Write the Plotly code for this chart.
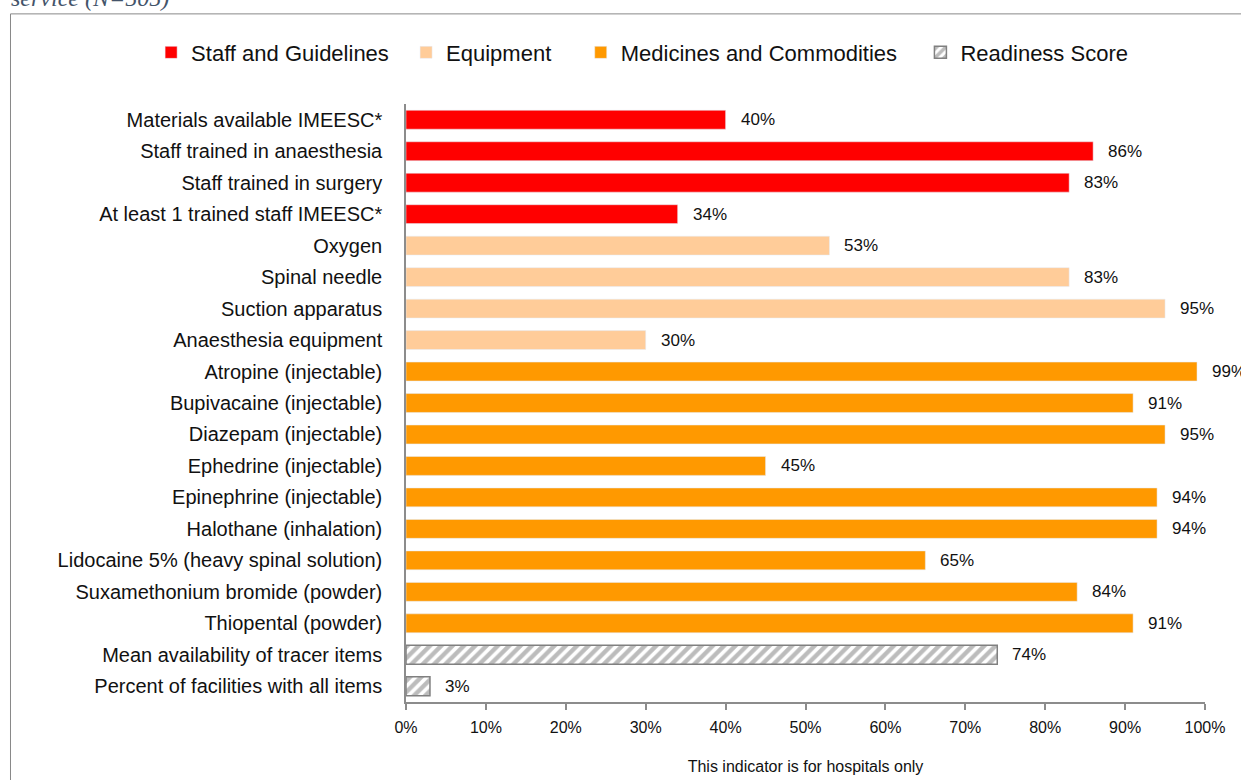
import plotly.graph_objects as go

# Tracer items grouped by domain (top to bottom)
staff_items = ["Materials available IMEESC*", "Staff trained in anaesthesia",
               "Staff trained in surgery", "At least 1 trained staff IMEESC*"]
staff_vals = [40, 86, 83, 34]

equip_items = ["Oxygen", "Spinal needle", "Suction apparatus", "Anaesthesia equipment"]
equip_vals = [53, 83, 95, 30]

med_items = ["Atropine (injectable)", "Bupivacaine (injectable)", "Diazepam (injectable)",
             "Ephedrine (injectable)", "Epinephrine (injectable)", "Halothane (inhalation)",
             "Lidocaine 5% (heavy spinal solution)", "Suxamethonium bromide (powder)",
             "Thiopental (powder)"]
med_vals = [99, 91, 95, 45, 94, 94, 65, 84, 91]

score_items = ["Mean availability of tracer items", "Percent of facilities with all items"]
score_vals = [74, 3]

tick_vals = [0, 10, 20, 30, 40, 50, 60, 70, 80, 90, 100]
tick_text = [f"{v}%" for v in tick_vals]

categories = staff_items + equip_items + med_items + score_items

FONT = "Liberation Sans, Arial, sans-serif"
GREY = "#8c8c8c"
NB = "\u00a0"

fig = go.Figure()

groups = [
    ("Staff and Guidelines" + NB * 2, staff_items, staff_vals, dict(color="#ff0000")),
    ("Equipment" + NB * 4, equip_items, equip_vals, dict(color="#ffcc99")),
    ("Medicines and Commodities" + NB * 3, med_items, med_vals, dict(color="#ff9900")),
    ("Readiness Score", score_items, score_vals,
     dict(color="white",
          pattern=dict(shape="/", fgcolor="#7a7a7a", bgcolor="white", size=8, solidity=0.55),
          line=dict(color="#808080", width=1.5))),
]

for name, items, vals, marker in groups:
    fig.add_trace(go.Bar(
        y=items, x=vals, orientation="h", name=name,
        marker=marker, width=0.6, hoverinfo="x+y",
    ))
    for item, v in zip(items, vals):
        fig.add_annotation(x=v, y=item, text=f"{v}%", showarrow=False,
                           xanchor="left", xshift=13,
                           font=dict(family=FONT, size=17, color="#111111"))

# caption line at the top of the frame
fig.add_annotation(xref="paper", yref="paper", x=-0.497, y=1.152,
                   xanchor="left", yanchor="bottom", showarrow=False,
                   text="<i>service (N=505)</i>",
                   font=dict(family="Liberation Serif, Times New Roman, serif", size=24, color="#44546a"))

# outer frame
fig.add_shape(type="rect", xref="paper", yref="paper",
              x0=-0.495, x1=1.06, y0=-0.2, y1=1.1507,
              line=dict(color="#888888", width=1), fillcolor="rgba(0,0,0,0)", layer="below")

fig.update_layout(
    width=1241, height=780,
    margin=dict(l=406, r=36, t=104, b=78),
    paper_bgcolor="white", plot_bgcolor="white",
    barmode="overlay",
    font=dict(family=FONT, color="#111111"),
    showlegend=True,
    legend=dict(orientation="h", x=-0.319, xanchor="left", y=1.086, yanchor="middle",
                font=dict(family=FONT, size=22, color="#111111"),
                bgcolor="rgba(0,0,0,0)"),
    xaxis=dict(range=[0, 100], tickvals=tick_vals, ticktext=tick_text, automargin=False,
               showgrid=False, zeroline=False, showline=True, linecolor=GREY, linewidth=1.5,
               ticks="outside", ticklen=6, tickcolor=GREY, tickwidth=1.5, ticklabelstandoff=4,
               tickfont=dict(family=FONT, size=16, color="#111111"),
               title=dict(text="This indicator is for hospitals only",
                          font=dict(family=FONT, size=16, color="#111111"), standoff=26)),
    yaxis=dict(categoryorder="array", categoryarray=categories, autorange="reversed",
               automargin=False,
               showgrid=False, zeroline=False, showline=True, linecolor=GREY, linewidth=1.5,
               ticks="", ticklabelstandoff=18,
               tickfont=dict(family=FONT, size=20, color="#111111")),
)

fig.write_html("out.html")
